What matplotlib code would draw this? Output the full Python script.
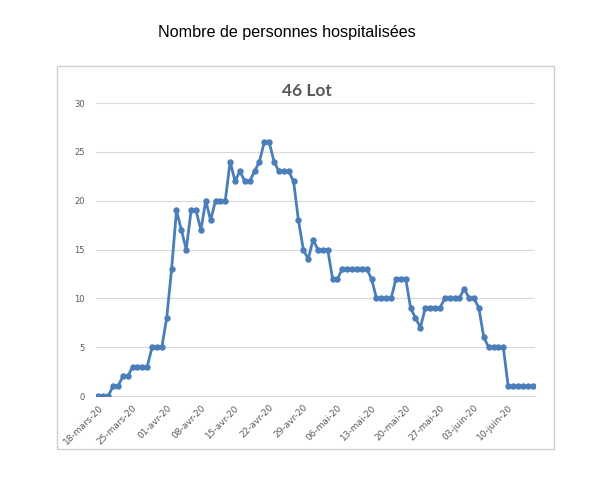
import matplotlib
matplotlib.use("Agg")
import matplotlib.pyplot as plt
from matplotlib.patches import Rectangle
import numpy as np
import pandas as pd

dates = pd.date_range("2020-03-18", "2020-06-15", freq="D")
hospitalises = [
    0, 0, 0, 1, 1, 2, 2, 3, 3, 3, 3, 5, 5, 5, 8, 13, 19, 17, 15, 19,
    19, 17, 20, 18, 20, 20, 20, 24, 22, 23, 22, 22, 23, 24, 26, 26, 24, 23, 23, 23,
    22, 18, 15, 14, 16, 15, 15, 15, 12, 12, 13, 13, 13, 13, 13, 13, 12, 10, 10, 10,
    10, 12, 12, 12, 9, 8, 7, 9, 9, 9, 9, 10, 10, 10, 10, 11, 10, 10, 9, 6,
    5, 5, 5, 5, 1, 1, 1, 1, 1, 1,
]
tick_labels = ["18-mars-20", "25-mars-20", "01-avr-20", "08-avr-20", "15-avr-20",
               "22-avr-20", "29-avr-20", "06-mai-20", "13-mai-20", "20-mai-20",
               "27-mai-20", "03-juin-20", "10-juin-20"]
y_ticks = [0, 5, 10, 15, 20, 25, 30]

fig = plt.figure(figsize=(6, 5), dpi=100)
fig.patch.set_facecolor("white")

# chart frame
fig.add_artist(Rectangle((57 / 600, 1 - 449 / 500), (554 - 57) / 600, (449 - 66) / 500,
                         transform=fig.transFigure, fill=False, edgecolor="#d0d0d0", lw=1))

fig.text(287 / 600, 1 - 32 / 500, "Nombre de personnes hospitalisées", ha="center", va="center",
         fontsize=11.6, family="Liberation Sans", color="black")

ax = fig.add_axes([96 / 600, 1 - 396 / 500, (535 - 96) / 600, (396 - 103) / 500])
x = np.arange(len(dates))
ax.plot(x, hospitalises, color="#4a7ebb", lw=2.0, marker="o", ms=3.6, zorder=3)

ax.set_xlim(-0.5, len(dates) - 0.5)
ax.set_ylim(0, 30)
ax.set_yticks(y_ticks)
ax.set_yticklabels([str(v) for v in y_ticks], fontsize=6, color="#595959")
ax.set_xticks(x[::7])
ax.set_xticklabels(tick_labels, rotation=45, ha="right", rotation_mode="anchor",
                   fontsize=6.5, color="#595959")
ax.tick_params(axis="both", length=0, pad=8)
ax.tick_params(axis="x", pad=5)
ax.grid(axis="y", color="#d9d9d9", lw=0.8)
ax.set_axisbelow(True)
for s in ["top", "right", "left"]:
    ax.spines[s].set_visible(False)
ax.spines["bottom"].set_color("#d9d9d9")
ax.spines["bottom"].set_linewidth(0.8)

fig.text(307 / 600, 1 - 91 / 500, "46 Lot", ha="center", va="center", fontsize=12.5,
         fontweight="bold", family="Lato", color="#595959")

fig.savefig("out.png", dpi=100)
